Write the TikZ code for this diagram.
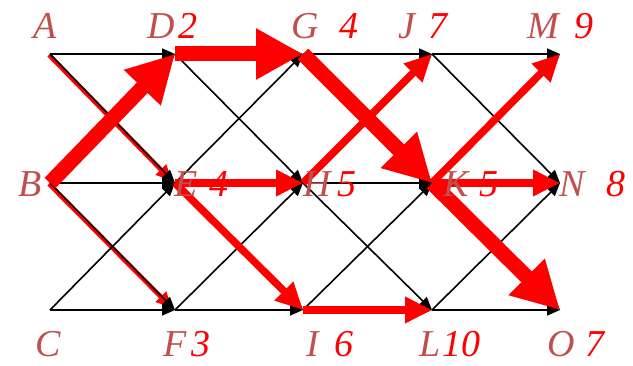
\documentclass[tikz,border=0pt]{standalone}
\usepackage{fontspec}
\setmainfont{Liberation Serif}
\usetikzlibrary{arrows.meta}
\definecolor{letc}{RGB}{192,80,77}
\definecolor{numc}{RGB}{255,0,0}
\begin{document}
\begin{tikzpicture}[x=1pt,y=-1pt,
  lab/.style={inner sep=0pt, anchor=base west, font=\fontsize{38}{38}\itshape\selectfont},
  ltr/.style={lab, text=letc},
  num/.style={lab, text=numc},
  edge/.style={black, line width=1.6pt, -{Triangle[length=13pt,width=11pt]}},
  shadowline/.style={red, line width=4.5pt, -{Triangle[length=16pt,width=14pt]}},
  midarrow/.style={red, line width=7.5pt, -{Triangle[length=27pt,width=25pt]}},
  bigarrow/.style={red, line width=15pt, -{Triangle[length=47pt,width=48pt]}},
]
\useasboundingbox (0,0) rectangle (633,366);
% node positions
\coordinate (A) at (50,54);   \coordinate (D) at (175,54);  \coordinate (G) at (303,54);  \coordinate (J) at (432,54);  \coordinate (M) at (560,54);
\coordinate (B) at (50,183);  \coordinate (E) at (175,183); \coordinate (H) at (303,183); \coordinate (K) at (432,183); \coordinate (N) at (560,183);
\coordinate (C) at (50,310);  \coordinate (F) at (175,310); \coordinate (I) at (303,310); \coordinate (L) at (432,310); \coordinate (O) at (560,310);
% shadow red lines under A->E and B->F
\coordinate (As) at (49,55); \coordinate (Es) at (172,181);
\coordinate (Bs) at (49,184); \coordinate (Fs) at (172,308);
\draw[shadowline] (As) -- (Es);
\draw[shadowline] (Bs) -- (Fs);
% black edges
\foreach \a/\b in {A/D,A/E,B/E,B/D,B/F,C/F,C/E,
                   D/G,D/H,E/H,E/G,E/I,F/I,F/H,
                   G/J,G/K,H/K,H/J,H/L,I/L,I/K,
                   J/M,J/N,K/N,K/M,K/O,L/O,L/N}
  \draw[edge] (\a) -- (\b);
% medium red arrows
\draw[midarrow] (E) -- (H);
\draw[midarrow] (H) -- (J);
\draw[midarrow] (E) -- (I);
\draw[midarrow] (I) -- (L);
\draw[midarrow] (K) -- (N);
\draw[midarrow] (K) -- (M);
% thick red arrows
\draw[bigarrow] (B) -- (D);
\draw[bigarrow] (D) -- (G);
\draw[bigarrow] (G) -- (K);
\draw[bigarrow] (K) -- (O);
% labels
\node[ltr] (tA) at (33,39) {A};
\node[ltr] (tD) at (147,39) {D};  \node[num] (vD) at (178,39) {2};
\node[ltr] (tG) at (291,39) {G};  \node[num] (vG) at (339,39) {4};
\node[ltr] (tJ) at (398,39) {J};  \node[num] (vJ) at (428,39) {7};
\node[ltr] (tM) at (527,39) {M};  \node[num] (vM) at (574,39) {9};
\node[ltr] (tB) at (18,197) {B};
\node[ltr] (tE) at (174,197) {E};  \node[num] (vE) at (209,197) {4};
\node[ltr] (tH) at (303,197) {H};  \node[num] (vH) at (337,197) {5};
\node[ltr] (tK) at (443,197) {K};  \node[num] (vK) at (479,197) {5};
\node[ltr] (tN) at (559,197) {N};  \node[num] (vN) at (606,197) {8};
\node[ltr] (tC) at (35,357) {C};
\node[ltr] (tF) at (163,357) {F};  \node[num] (vF) at (191,357) {3};
\node[ltr] (tI) at (306,357) {I};  \node[num] (vI) at (334,357) {6};
\node[ltr] (tL) at (419,357) {L};  \node[num] (vL) at (442,357) {10};
\node[ltr] (tO) at (547,357) {O};  \node[num] (vO) at (585,357) {7};
\end{tikzpicture}
\end{document}
